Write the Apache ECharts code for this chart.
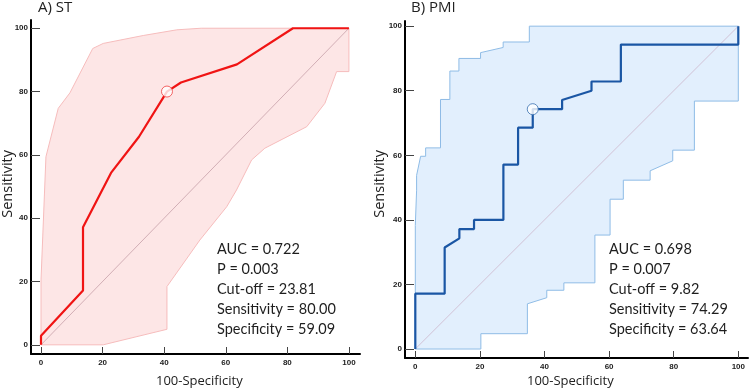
<!DOCTYPE html>
<html>
<head>
<meta charset="utf-8">
<script src="https://cdn.jsdelivr.net/npm/echarts@6/dist/echarts.min.js"></script>
<style>
  html, body { margin: 0; padding: 0; background: #fff; }
  #main { width: 750px; height: 392px; }
</style>
</head>
<body>
<div id="main"></div>
<script>
// tick labels on both axes
var ticks = [0, 20, 40, 60, 80, 100];

// A) ST - ROC curve (100-specificity, sensitivity)
var stCurve = [[0, 0], [0, 2.86], [13.64, 17.14], [13.64, 37.14], [22.73, 54.29], [31.82, 65.71],
  [40.91, 80], [45.45, 82.86], [63.64, 88.57], [81.82, 100], [100, 100]];
var stCut = [[40.91, 80]];
// confidence band, upper edge then lower edge back to the origin
var stBandUpper = [[0, 0], [0, 20.5], [1.6, 59.4], [5.6, 74.7], [9.4, 79.6], [16.8, 93.6], [20.2, 95.2],
  [33.2, 97.7], [44.1, 99.5], [52, 100], [100, 100]];
var stBandLower = [[100, 86.3], [96, 86.3], [92.2, 76.3], [86.3, 68.9], [72.7, 62.1], [68.4, 58.4],
  [63.5, 48.9], [60.3, 43.6], [51.6, 33.1], [40.9, 18.4], [40.9, 4.9], [20.2, 0], [0, 0]];
var stText = ['AUC = 0.722', 'P = 0.003', 'Cut-off = 23.81', 'Sensitivity = 80.00', 'Specificity = 59.09'];

// B) PMI
var pmiCurve = [[0, 0], [0, 17.14], [9.09, 17.14], [9.09, 31.43], [13.64, 34.29], [13.64, 37.14],
  [18.18, 37.14], [18.18, 40], [27.27, 40], [27.27, 57.14], [31.82, 57.14], [31.82, 68.57],
  [36.36, 68.57], [36.36, 74.29], [45.45, 74.29], [45.45, 77.14], [54.55, 80], [54.55, 82.86],
  [63.64, 82.86], [63.64, 94.29], [100, 94.29], [100, 100]];
var pmiCut = [[36.36, 74.29]];
var pmiBandUpper = [[0, 0], [0, 38.3], [0.4, 49.2], [0.4, 53.8], [1.65, 59.7], [3.2, 59.7], [3.2, 62.3],
  [7.8, 62.3], [7.8, 77.3], [10.7, 77.3], [10.7, 86.1], [13.5, 86.1], [13.5, 90], [20.2, 90],
  [20.2, 91.8], [27.2, 93.4], [27.2, 95.1], [35.3, 95.1], [35.3, 100], [100, 100]];
var pmiBandLower = [[100, 76.8], [86.4, 76.8], [86.4, 61.6], [79.7, 61.6], [79.7, 58.3], [72.7, 55.2],
  [72.7, 52.3], [64.4, 52.3], [64.4, 46.4], [60.3, 46.4], [60.3, 35.3], [55.6, 35.3], [55.6, 20.5],
  [46, 20.5], [46, 18.2], [40.7, 18.2], [40.7, 15.9], [34.7, 14.0], [34.7, 4.75], [20.3, 4.75],
  [20.3, 0], [0, 0]];
var pmiText = ['AUC = 0.698', 'P = 0.007', 'Cut-off = 9.82', 'Sensitivity = 74.29', 'Specificity = 63.64'];

var diagonal = [[0, 0], [100, 100]];

var myChart = echarts.init(document.getElementById('main'));

function bandSeries(idx, upper, lower, fill, stroke) {
  var pts = upper.concat(lower);
  return {
    type: 'custom', xAxisIndex: idx, yAxisIndex: idx, silent: true, z: 1,
    data: [0],
    renderItem: function (params, api) {
      var poly = pts.map(function (p) { return api.coord(p); });
      return {
        type: 'polygon',
        shape: { points: poly },
        style: { fill: fill, stroke: stroke, lineWidth: 1 }
      };
    }
  };
}

function xAxisOf(idx, min, max, margin) {
  return {
    gridIndex: idx, type: 'value', min: min, max: max,
    axisLine: { onZero: false, lineStyle: { color: '#000', width: 2 } },
    axisTick: { inside: true, length: 7, customValues: ticks, lineStyle: { color: '#444', width: 1 } },
    axisLabel: { customValues: ticks, margin: margin, color: '#222', fontSize: 8, fontWeight: 'bold',
      fontFamily: 'Liberation Sans' },
    splitLine: { show: false }
  };
}
function yAxisOf(idx, min, max) {
  return {
    gridIndex: idx, type: 'value', min: min, max: max,
    axisLine: { onZero: false, lineStyle: { color: '#000', width: 2 } },
    axisTick: { inside: true, length: 9, customValues: ticks, lineStyle: { color: '#444', width: 1 } },
    axisLabel: { customValues: ticks, margin: 3, color: '#222', fontSize: 8, fontWeight: 'bold',
      fontFamily: 'Liberation Sans' },
    splitLine: { show: false }
  };
}

function statLines(list, x, y) {
  return list.map(function (t, i) {
    return {
      type: 'text', left: x, top: y + i * 20,
      style: { text: t, fill: '#1e1e1e', font: '14.5px Lato' }
    };
  });
}

option = {
  animation: false,
  grid: [
    { left: 31, top: 20, width: 329, height: 334 },
    { left: 405, top: 21, width: 343, height: 337 }
  ],
  xAxis: [xAxisOf(0, -3.25, 103.6, 5), xAxisOf(1, -3.19, 103.0, 5)],
  yAxis: [yAxisOf(0, -2.9, 102.6), yAxisOf(1, -2.78, 101.6)],
  graphic: [
    { type: 'text', left: 38, top: 0, style: { text: 'A) ST', fill: '#222', font: '15px "Open Sans"' } },
    { type: 'text', left: 411, top: 0, style: { text: 'B) PMI', fill: '#222', font: '15px "Open Sans"' } },
    { type: 'text', left: 156, top: 375, style: { text: '100-Specificity', fill: '#222', font: '13px "Open Sans"' } },
    { type: 'text', left: 527, top: 375, style: { text: '100-Specificity', fill: '#222', font: '13px "Open Sans"' } },
    { type: 'text', left: 0, top: 150, rotation: Math.PI / 2,
      style: { text: 'Sensitivity', fill: '#222', font: '14.5px "Open Sans"' } },
    { type: 'text', left: 372, top: 150, rotation: Math.PI / 2,
      style: { text: 'Sensitivity', fill: '#222', font: '14.5px "Open Sans"' } }
  ].concat(statLines(stText, 217, 242)).concat(statLines(pmiText, 609, 242)),
  series: [
    bandSeries(0, stBandUpper, stBandLower, '#fde6e6', '#f6bcbc'),
    bandSeries(1, pmiBandUpper, pmiBandLower, '#e2effd', '#8fbce6'),
    { type: 'line', xAxisIndex: 0, yAxisIndex: 0, data: diagonal, showSymbol: false, z: 2,
      lineStyle: { color: '#c6a0a8', width: 0.8 } },
    { type: 'line', xAxisIndex: 1, yAxisIndex: 1, data: diagonal, showSymbol: false, z: 2,
      lineStyle: { color: '#cdb6cc', width: 0.8 } },
    { type: 'line', xAxisIndex: 0, yAxisIndex: 0, data: stCurve, showSymbol: false, z: 3,
      lineStyle: { color: '#f01414', width: 2.2 } },
    { type: 'line', xAxisIndex: 1, yAxisIndex: 1, data: pmiCurve, showSymbol: false, z: 3,
      lineStyle: { color: '#1a56a4', width: 2.2 } },
    { type: 'scatter', xAxisIndex: 0, yAxisIndex: 0, data: stCut, symbolSize: 11, z: 4,
      itemStyle: { color: '#fff', borderColor: '#f04040', borderWidth: 1 } },
    { type: 'scatter', xAxisIndex: 1, yAxisIndex: 1, data: pmiCut, symbolSize: 11, z: 4,
      itemStyle: { color: '#fff', borderColor: '#3a70b0', borderWidth: 1 } }
  ]
};

myChart.setOption(option);
</script>
</body>
</html>
